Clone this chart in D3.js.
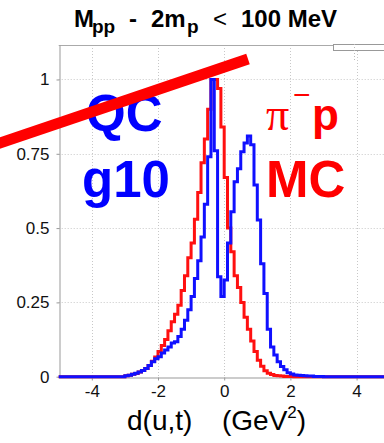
<!DOCTYPE html>
<html>
<head>
<meta charset="utf-8">
<script src="https://cdn.jsdelivr.net/npm/d3@7"></script>
<style>
  body { margin: 0; background: #fff; }
  svg { display: block; }
  text { font-family: "Liberation Sans", Arial, Helvetica, sans-serif; }
</style>
</head>
<body>
<div id="chart"></div>
<script>
// histogram bins, 0.1 wide, first bin starts at -3.0
const binStart = -3.0;
const binWidth = 0.1;

// pi- p MC (red)
const redValues = [
  0.003, 0.005, 0.008, 0.011, 0.016, 0.021, 0.028, 0.038, 0.052, 0.066,
  0.085, 0.105, 0.125, 0.155, 0.185, 0.21, 0.24, 0.29, 0.34, 0.40,
  0.45, 0.53, 0.62, 0.72, 0.80, 0.90, 1.0, 1.0, 0.97, 0.84,
  0.67, 0.50, 0.42, 0.34, 0.30, 0.25, 0.20, 0.16, 0.12, 0.085,
  0.055, 0.035, 0.02, 0.012, 0.007, 0.004, 0.003, 0.002, 0.001, 0.001,
  0.001, 0, 0, 0, 0, 0, 0, 0, 0, 0
];

// QC g10 (blue)
const blueValues = [
  0.003, 0.005, 0.008, 0.012, 0.016, 0.021, 0.028, 0.038, 0.05, 0.06,
  0.067, 0.08, 0.09, 0.10, 0.113, 0.118, 0.135, 0.16, 0.19, 0.225,
  0.27, 0.33, 0.39, 0.47, 0.58, 0.74, 1.0, 0.76, 0.336, 0.27,
  0.325, 0.45, 0.555, 0.656, 0.70, 0.757, 0.786, 0.81, 0.78, 0.645,
  0.527, 0.38, 0.28, 0.16, 0.10, 0.073, 0.05, 0.034, 0.023, 0.013,
  0.009, 0.006, 0.005, 0.004, 0.003, 0.002, 0.002, 0.001, 0.001, 0.001
];

const xTicks = [-4, -2, 0, 2, 4];
const yTicks = [0, 0.25, 0.5, 0.75, 1];

const W = 384, H = 443;

const svg = d3.select("#chart").append("svg")
  .attr("width", W)
  .attr("height", H);

const x = d3.scaleLinear().domain([-5, 5]).range([58.7, 389.7]);
const y = d3.scaleLinear().domain([0, 1.116]).range([376.7, 45]);

// grid
const grid = svg.append("g")
  .attr("stroke", "#c8c8c8")
  .attr("stroke-width", 1)
  .attr("stroke-dasharray", "1,2");
grid.selectAll("line.v").data(xTicks).join("line")
  .attr("class", "v")
  .attr("x1", d => Math.round(x(d)) + 0.5).attr("x2", d => Math.round(x(d)) + 0.5)
  .attr("y1", y.range()[1]).attr("y2", y.range()[0]);
grid.selectAll("line.h").data(yTicks.filter(d => d > 0)).join("line")
  .attr("class", "h")
  .attr("x1", x(-5)).attr("x2", W)
  .attr("y1", d => Math.round(y(d)) + 0.5).attr("y2", d => Math.round(y(d)) + 0.5);

// frame top
svg.append("line")
  .attr("x1", x(-5)).attr("x2", W)
  .attr("y1", 45.5).attr("y2", 45.5)
  .attr("stroke", "#aaa");

// axes
const yAxis = svg.append("g")
  .attr("transform", `translate(${Math.round(x(-5)) + 0.5},0)`)
  .call(d3.axisLeft(y).tickValues(yTicks).tickSize(3).tickSizeOuter(0).tickFormat(d => String(d)));
const xAxis = svg.append("g")
  .attr("transform", `translate(0,${Math.round(y(0)) + 0.5})`)
  .call(d3.axisBottom(x).tickValues(xTicks).tickSize(3).tickSizeOuter(0).tickFormat(d => String(d)));

[yAxis, xAxis].forEach(a => {
  a.select(".domain").attr("stroke", "#999");
  a.selectAll(".tick line").attr("stroke", "#999");
  a.selectAll(".tick text")
    .attr("fill", "#111")
    .attr("font-size", 17)
    .attr("font-family", "Liberation Sans, Arial, sans-serif");
});
yAxis.selectAll(".tick text").attr("x", -10);
xAxis.selectAll(".tick text").attr("y", 7);

// histograms
function histPoints(values) {
  const pts = [[-5, 0]];
  values.forEach((v, i) => pts.push([binStart + i * binWidth, v]));
  pts.push([binStart + values.length * binWidth, 0]);
  pts.push([5, 0]);
  return pts;
}

const line = d3.line()
  .x(d => x(d[0]))
  .y(d => y(d[1]))
  .curve(d3.curveStepAfter);

svg.append("path")
  .attr("d", line(histPoints(redValues)))
  .attr("fill", "none")
  .attr("stroke", "#ff1010")
  .attr("stroke-width", 3);

svg.append("path")
  .attr("d", line(histPoints(blueValues)))
  .attr("fill", "none")
  .attr("stroke", "#1010ff")
  .attr("stroke-width", 3);

// small stat box, top right
svg.append("rect")
  .attr("x", 333.5).attr("y", 44.5)
  .attr("width", 60).attr("height", 6)
  .attr("fill", "#fff")
  .attr("stroke", "#999");
svg.append("line")
  .attr("x1", 354.5).attr("x2", 354.5)
  .attr("y1", 44).attr("y2", 60)
  .attr("stroke", "#bbb").attr("stroke-dasharray", "1,2");

// labels inside plot
svg.append("text")
  .attr("x", 86).attr("y", 131)
  .attr("font-size", 51).attr("font-weight", "bold")
  .attr("fill", "#0000ff")
  .text("QC");
svg.append("text")
  .attr("x", 82).attr("y", 197)
  .attr("font-size", 51).attr("font-weight", "bold")
  .attr("fill", "#0000ff")
  .text("g10");

const pip = svg.append("text")
  .attr("y", 130)
  .attr("fill", "#ff0000");
pip.append("tspan")
  .attr("x", 266)
  .attr("font-size", 46)
  .attr("font-family", "Liberation Serif, Times New Roman, serif")
  .text("π");
pip.append("tspan")
  .attr("x", 293).attr("dy", -25)
  .attr("font-size", 30)
  .text("−");
pip.append("tspan")
  .attr("x", 312).attr("dy", 25)
  .attr("font-size", 44).attr("font-weight", "bold")
  .text("p");

svg.append("text")
  .attr("x", 266).attr("y", 197)
  .attr("font-size", 51).attr("font-weight", "bold")
  .attr("fill", "#ff0000")
  .text("MC");

// red strike line
svg.append("line")
  .attr("x1", -5).attr("y1", 144.7)
  .attr("x2", 248).attr("y2", 59)
  .attr("stroke", "#ff0000")
  .attr("stroke-width", 11);

// title
const title = svg.append("text")
  .attr("y", 27)
  .attr("font-size", 24).attr("font-weight", "bold")
  .attr("fill", "#000");
title.append("tspan").attr("x", 74).text("M");
title.append("tspan").attr("x", 92).attr("font-size", 19).attr("dy", 6).text("pp");
title.append("tspan").attr("x", 129).attr("dy", -6).text("-");
title.append("tspan").attr("x", 151).text("2m");
title.append("tspan").attr("x", 187).attr("font-size", 19).attr("dy", 6).text("p");
title.append("tspan").attr("x", 213).attr("dy", -6).attr("font-weight", "normal").text("<");
title.append("tspan").attr("x", 241).text("100 MeV");

// x axis title
const xt = svg.append("text")
  .attr("y", 430)
  .attr("font-size", 28)
  .attr("fill", "#000");
xt.append("tspan").attr("x", 127).text("d(u,t)");
xt.append("tspan").attr("x", 222).text("(GeV");
xt.append("tspan").attr("font-size", 17).attr("dy", -12).text("2");
xt.append("tspan").attr("dy", 12).text(")");
</script>
</body>
</html>
